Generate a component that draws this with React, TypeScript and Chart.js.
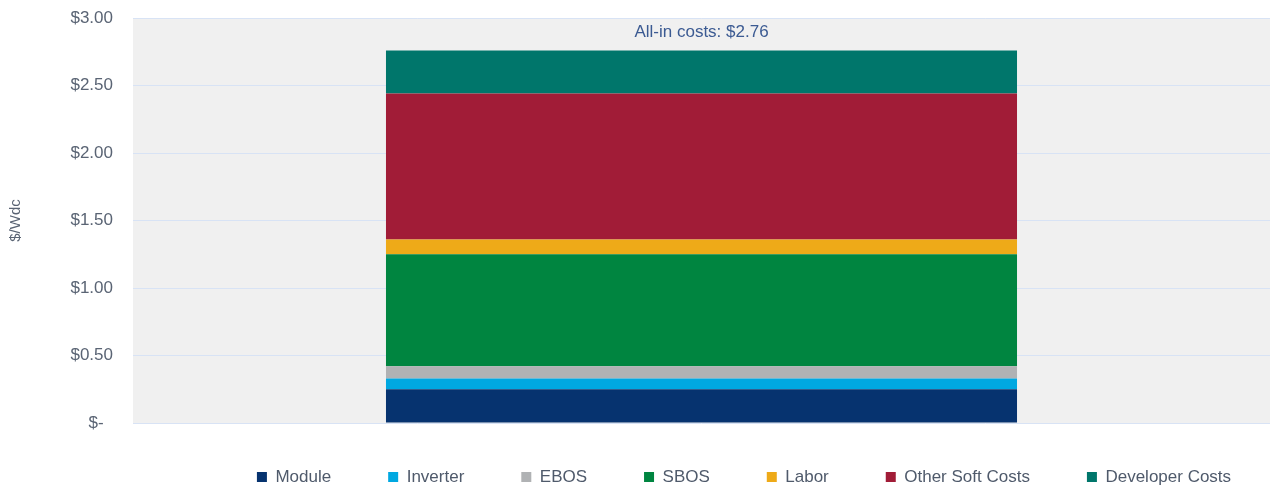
import React, { useEffect, useRef } from 'react';
import { Chart, registerables } from 'chart.js';

Chart.register(...registerables);

// ---- data ----
const categories = ['Total'];
const seriesNames = ['Module', 'Inverter', 'EBOS', 'SBOS', 'Labor', 'Other Soft Costs', 'Developer Costs'];
const moduleCost = [0.25];
const inverterCost = [0.08];
const ebosCost = [0.09];
const sbosCost = [0.83];
const laborCost = [0.11];
const otherSoftCost = [1.08];
const developerCost = [0.32];
const yMin = 0;
const yMax = 3;
const yStep = 0.5;
const yTitle = '$/Wdc';
const totalPrefix = 'All-in costs: $';

// ---- styles ----
const seriesColors = ['#06336f', '#00a8e1', '#b0b2b4', '#008540', '#eeaa18', '#a11c37', '#00766b'];
const FONT = "'Liberation Sans', Arial, Helvetica, sans-serif";
const TICK_COLOR = '#5a6474';

const seriesValues = [moduleCost, inverterCost, ebosCost, sbosCost, laborCost, otherSoftCost, developerCost];

const bgPlugin = {
  id: 'plotBg',
  beforeDraw(chart: any) {
    const { ctx, chartArea } = chart;
    ctx.save();
    ctx.fillStyle = '#f0f0f0';
    ctx.fillRect(chartArea.left, chartArea.top, chartArea.right - chartArea.left, chartArea.bottom - chartArea.top);
    ctx.restore();
  },
};

const legendPlace = {
  id: 'legendPlace',
  afterLayout(chart: any) {
    const lg = chart.legend;
    if (!lg) return;
    const pad = lg.options.labels.padding;
    const fs = lg.options.labels.font.size;
    const top = 477 - pad - fs / 2;
    lg.top = top;
    lg.bottom = 520;
    lg.left += 109;
    lg.right += 109;
  },
};

const totalLabelPlugin = {
  id: 'totalLabel',
  afterDatasetsDraw(chart: any) {
    const { ctx, scales } = chart;
    ctx.save();
    ctx.font = `17px ${FONT}`;
    ctx.fillStyle = '#3b5a92';
    ctx.textAlign = 'center';
    ctx.textBaseline = 'middle';
    categories.forEach((c, i) => {
      const total = seriesValues.reduce((s, arr) => s + arr[i], 0);
      const x = scales.x.getPixelForValue(i);
      const y = scales.y.getPixelForValue(total) - 18;
      ctx.fillText(totalPrefix + total.toFixed(2), x, y);
    });
    ctx.restore();
  },
};

export default function App() {
  const ref = useRef<HTMLCanvasElement | null>(null);

  useEffect(() => {
    if (!ref.current) return;
    Chart.defaults.font.family = FONT;
    const chart = new Chart(ref.current, {
      type: 'bar',
      data: {
        labels: categories,
        datasets: seriesNames.map((name, i) => ({
          label: name,
          data: seriesValues[i],
          backgroundColor: seriesColors[i],
          borderWidth: 0,
          categoryPercentage: 1,
          barPercentage: 0.555,
        })),
      },
      options: {
        animation: false,
        responsive: false,
        devicePixelRatio: 1,
        layout: { padding: { top: 18, right: 0, bottom: 0, left: 0 } },
        plugins: {
          legend: {
            position: 'bottom',
            maxHeight: 63,
            labels: {
              boxWidth: 10,
              boxHeight: 10,
              padding: 57,
              color: '#4f5a6b',
              font: { size: 17, family: FONT },
            },
          },
          tooltip: { enabled: false },
        },
        scales: {
          x: {
            stacked: true,
            display: false,
          },
          y: {
            stacked: true,
            min: yMin,
            max: yMax,
            ticks: {
              stepSize: yStep,
              padding: 0,
              color: TICK_COLOR,
              font: { size: 17, family: FONT },
              callback: (v: any) => (Number(v) === 0 ? '$-  ' : '$' + Number(v).toFixed(2)),
            },
            grid: { color: '#d8e3f5', lineWidth: 1, drawTicks: true, tickLength: 20, tickColor: 'rgba(0,0,0,0)' },
            border: { display: false },
            title: {
              display: true,
              text: yTitle,
              color: TICK_COLOR,
              font: { size: 15, family: FONT },
              padding: { top: 7, bottom: 0 },
            },
            afterFit: (s: any) => {
              s.width = 133;
            },
          },
        },
      },
      plugins: [bgPlugin, legendPlace, totalLabelPlugin],
    } as any);
    return () => chart.destroy();
  }, []);

  return (
    <div style={{ position: 'fixed', left: 0, top: 0, width: 1270, height: 486, background: '#fff' }}>
      <canvas ref={ref} width={1270} height={486} style={{ display: 'block' }} />
    </div>
  );
}
